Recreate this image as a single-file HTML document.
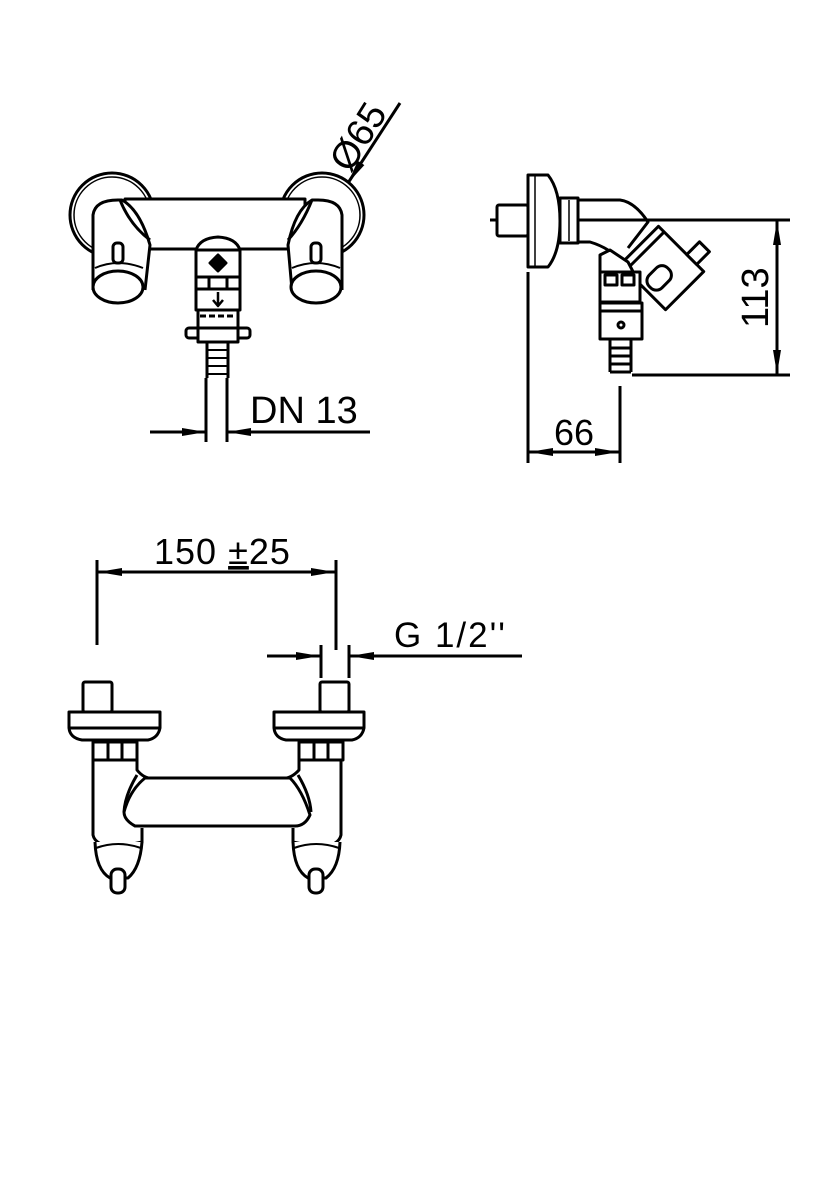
<!DOCTYPE html>
<html><head><meta charset="utf-8"><style>
html,body{margin:0;padding:0;background:#fff}
svg{display:block}
text{font-family:"Liberation Sans","DejaVu Sans",sans-serif;fill:#000}
</style></head><body>
<svg width="818" height="1200" viewBox="0 0 818 1200" xmlns="http://www.w3.org/2000/svg">
<defs>
<marker id="a" markerWidth="24" markerHeight="10" refX="24" refY="5" orient="auto" markerUnits="userSpaceOnUse">
<path d="M0,1 L24,5 L0,9 Z" fill="#000"/></marker>
</defs>
<g fill="none" stroke="#000" stroke-width="3" stroke-linejoin="round">
<circle cx="112" cy="215" r="42"/><circle cx="112" cy="215" r="38" stroke-width="1.5"/>
<circle cx="322" cy="215" r="42"/><circle cx="322" cy="215" r="38" stroke-width="1.5"/>
<rect x="125" y="199" width="180" height="50" fill="#fff"/>
<path d="M93,290 L93,215 Q95,200 118,200 L122,200 Q140,210 150,245 L145,290" fill="#fff"/>
<path d="M120,200 Q130,225 150,240" />
<ellipse cx="118" cy="287" rx="25" ry="16" fill="#fff"/>
<path d="M95,268 Q118,258 143,268" stroke-width="2"/>
<rect x="113" y="243" width="10" height="20" rx="4"/>
<path d="M342,290 L342,215 Q340,200 318,200 L312,200 Q295,210 288,245 L292,290" fill="#fff"/>
<path d="M312,200 Q302,225 288,240" />
<ellipse cx="316" cy="287" rx="25" ry="16" fill="#fff"/>
<path d="M292,268 Q316,258 340,268" stroke-width="2"/>
<rect x="311" y="243" width="10" height="20" rx="4"/>
<path d="M196,250 Q200,238 218,237 Q236,238 240,250 Z" fill="#fff"/>
<rect x="196" y="250" width="44" height="60" fill="#fff"/>
<path d="M218,255 L226,263 L218,271 L210,263 Z" fill="#000"/>
<line x1="196" y1="277" x2="240" y2="277"/>
<line x1="196" y1="289" x2="240" y2="289"/>
<rect x="209" y="277" width="18" height="12"/>
<path d="M218,292 L218,304 M213,300 L218,306 L223,300" stroke-width="2.5"/>
<rect x="198" y="310" width="40" height="18"/>
<line x1="200" y1="316" x2="236" y2="316" stroke-dasharray="6,3"/>
<rect x="186" y="328" width="64" height="10" rx="3" fill="#fff"/>
<rect x="198" y="328" width="40" height="14" fill="#fff"/>
<path d="M207,342 L207,378 M228,342 L228,378" />
<path d="M207,350 L228,350 M207,358 L228,358 M207,366 L228,366 M207,374 L228,374" stroke-width="2"/>
<path d="M206,378 L206,442 M227,378 L227,442"/>
<line x1="150" y1="432" x2="206" y2="432" marker-end="url(#a)"/>
<line x1="370" y1="432" x2="227" y2="432" marker-end="url(#a)"/>
<line x1="400" y1="103" x2="348" y2="183" marker-end="url(#a)"/>

<line x1="490" y1="220" x2="790" y2="220"/>
<rect x="497" y="205" width="31" height="31" rx="2" fill="#fff"/>
<path d="M528,175 L548,175 Q560,190 560,221 Q560,252 548,267 L528,267 Z" fill="#fff"/>
<line x1="535" y1="176" x2="535" y2="266" stroke-width="1.5"/>
<rect x="560" y="198" width="18" height="45" fill="#fff"/>
<line x1="569" y1="200" x2="569" y2="241" stroke-width="1.5"/>
<path d="M578,200 L620,200 Q635,202 648,222 L628,248" />
<path d="M578,242 L590,242 Q600,245 608,250"/>
<g transform="translate(662,268) rotate(45)">
<rect x="-32" y="-27" width="64" height="54" fill="#fff"/>
<line x1="-24" y1="-27" x2="-24" y2="27"/>
<rect x="-4" y="-4" width="18" height="26" rx="8"/>
<rect x="8" y="-45" width="14" height="18" fill="#fff"/>
</g>
<path d="M600,255 L600,285 L640,285 L628,262 L610,250 Z" fill="#fff"/>
<rect x="600" y="272" width="40" height="30" fill="#fff"/>
<rect x="605" y="275" width="12" height="10"/><rect x="622" y="275" width="12" height="10"/>
<rect x="600" y="303" width="42" height="8"/>
<rect x="600" y="311" width="42" height="28" fill="#fff"/>
<circle cx="621" cy="325" r="3"/>
<path d="M610,340 L610,372 M631,340 L631,372 M610,348 L631,348 M610,356 L631,356 M610,364 L631,364 M610,372 L631,372"/>
<line x1="632" y1="375" x2="790" y2="375"/>
<line x1="777" y1="300" x2="777" y2="221" marker-end="url(#a)"/>
<line x1="777" y1="300" x2="777" y2="374" marker-end="url(#a)"/>
<line x1="528" y1="272" x2="528" y2="463"/>
<line x1="620" y1="386" x2="620" y2="463"/>
<line x1="574" y1="452" x2="529" y2="452" marker-end="url(#a)"/>
<line x1="574" y1="452" x2="619" y2="452" marker-end="url(#a)"/>

<line x1="97" y1="560" x2="97" y2="645"/>
<line x1="336" y1="560" x2="336" y2="650"/>
<line x1="216" y1="572" x2="98" y2="572" marker-end="url(#a)"/>
<line x1="216" y1="572" x2="335" y2="572" marker-end="url(#a)"/>
<line x1="321" y1="645" x2="321" y2="678"/>
<line x1="349" y1="645" x2="349" y2="678"/>
<line x1="267" y1="656" x2="320" y2="656" marker-end="url(#a)"/>
<line x1="522" y1="656" x2="350" y2="656" marker-end="url(#a)"/>
<rect x="83" y="682" width="29" height="30" rx="2" fill="#fff"/>
<path d="M69,712 L160,712 L160,728 Q158,738 148,740 L82,740 Q70,738 69,728 Z" fill="#fff"/>
<line x1="70" y1="728" x2="159" y2="728"/>
<rect x="93" y="742" width="44" height="18"/>
<line x1="108" y1="742" x2="108" y2="760"/><line x1="122" y1="742" x2="122" y2="760"/>
<path d="M93,760 L93,835 Q95,845 115,848 L142,842 L142,828" />
<path d="M137,760 L137,770 Q145,780 155,778"/>
<rect x="320" y="682" width="29" height="30" rx="2" fill="#fff"/>
<path d="M274,712 L364,712 L364,728 Q362,738 352,740 L286,740 Q275,738 274,728 Z" fill="#fff"/>
<line x1="275" y1="728" x2="363" y2="728"/>
<rect x="299" y="742" width="44" height="18"/>
<line x1="314" y1="742" x2="314" y2="760"/><line x1="328" y1="742" x2="328" y2="760"/>
<path d="M341,760 L341,835 Q339,845 320,848 L293,842 L293,828"/>
<path d="M299,760 L299,770 Q290,780 280,778"/>
<path d="M145,778 L290,778 Q302,790 310,815 Q305,826 295,826 L135,826 Q124,820 124,812 Q130,790 145,778 Z" fill="#fff"/>
<path d="M137,775 Q125,795 124,812" />
<path d="M298,775 Q310,795 311,812"/>
<path d="M95,842 Q96,870 110,878 L128,878 Q140,868 142,842" fill="#fff"/>
<path d="M96,848 Q118,840 141,848" stroke-width="2"/>
<rect x="111" y="869" width="14" height="24" rx="6" fill="#fff"/>
<path d="M293,842 Q294,870 308,878 L326,878 Q339,868 340,842" fill="#fff"/>
<path d="M294,848 Q316,840 339,848" stroke-width="2"/>
<rect x="309" y="869" width="14" height="24" rx="6" fill="#fff"/>
</g>
<text x="250" y="423" font-size="38">DN 13</text>
<text transform="translate(350,174) rotate(-58)" font-size="38">Ø65</text>
<text transform="translate(768,328) rotate(-90)" font-size="38">113</text>
<text x="554" y="445" font-size="36">66</text>
<text x="154" y="564" font-size="36" letter-spacing="1">150 <tspan text-decoration="underline">±</tspan>25</text>
<text x="394" y="647" font-size="35" letter-spacing="2">G 1/2''</text>
</svg>
</body></html>
